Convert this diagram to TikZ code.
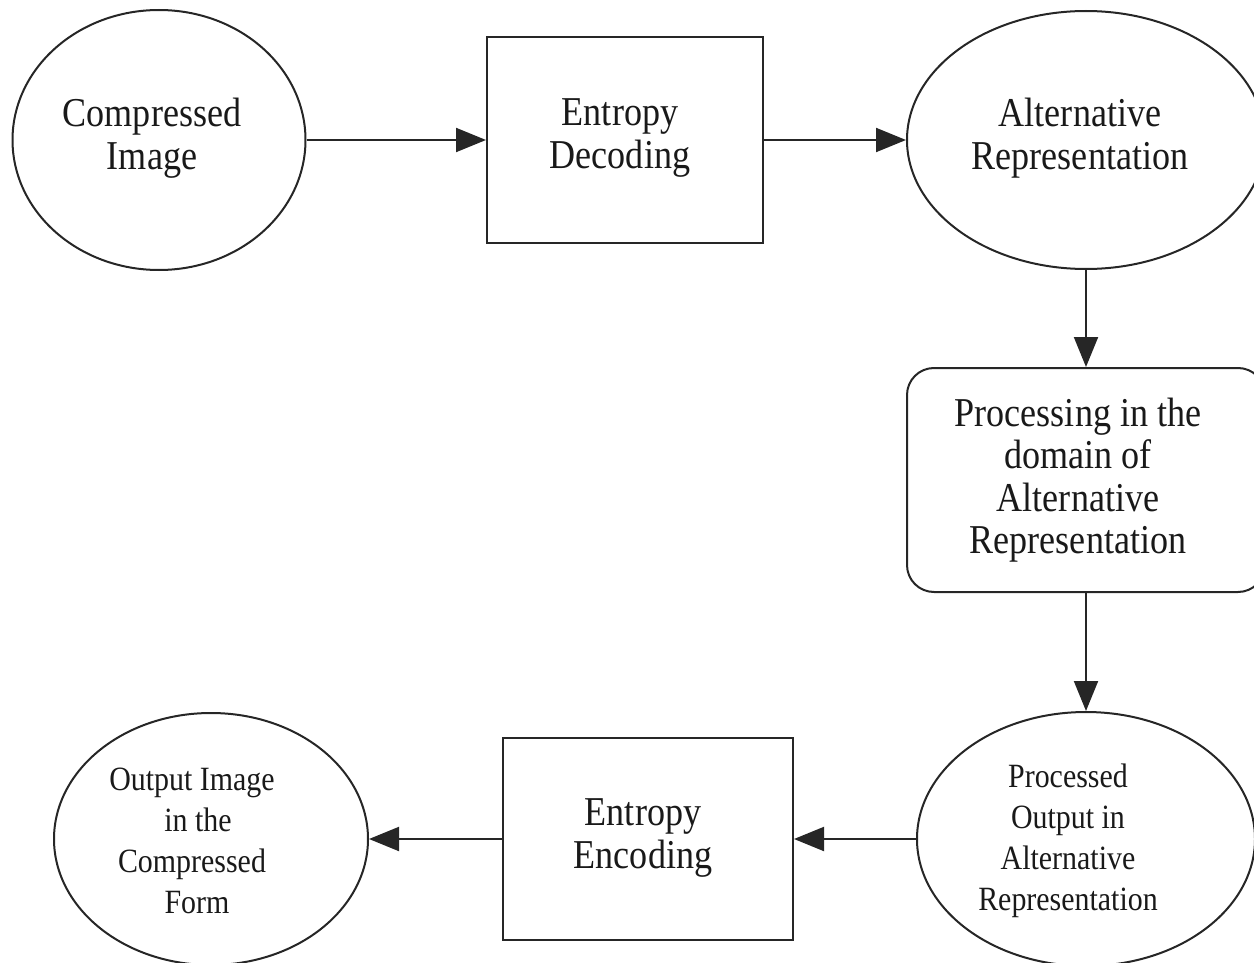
\documentclass[tikz,border=0pt]{standalone}
\usepackage{fontspec}
\setmainfont{Liberation Serif}[FakeStretch=0.88]
\usetikzlibrary{shapes.geometric,arrows.meta}
\begin{document}
\begin{tikzpicture}[x=1pt,y=-1pt,
  line width=2pt,
  outline/.style={draw=black!85, line width=2pt, inner sep=0pt},
  oval/.style={outline, ellipse},
  plainbox/.style={outline, rectangle},
  softbox/.style={outline, rectangle, rounded corners=27pt},
  caption/.style={inner sep=0pt, align=center, text=black!90},
  bigtext/.style={caption, font=\fontsize{41}{42.5}\selectfont},
  smalltext/.style={caption, font=\fontsize{34}{41}\selectfont},
  flow/.style={draw=black!85, -{Triangle[length=30pt,width=24pt]}}
]
\useasboundingbox (0,0) rectangle (1254,963);

% top row
\node[oval, minimum width=293pt, minimum height=260pt] (ci) at (159,140) {};
\node[bigtext] (ci-t) at (152,138) {Compressed\\Image};
\node[plainbox, minimum width=276pt, minimum height=206pt] (ed) at (625,140) {};
\node[bigtext] (ed-t) at (620,138) {Entropy\\Decoding};
\node[oval, minimum width=358pt, minimum height=258pt] (ar) at (1086,140) {};
\node[bigtext] (ar-t) at (1080,138) {Alternative\\Representation};

% right column
\node[softbox, minimum width=358pt, minimum height=224pt] (proc) at (1086,480) {};
\node[bigtext] (proc-t) at (1078,480) {Processing in the\\domain of\\Alternative\\Representation};
\node[oval, minimum width=338pt, minimum height=254pt] (po) at (1086,839) {};
\node[smalltext] (po-t) at (1068,841) {Processed\\Output in\\Alternative\\Representation};

% bottom row
\node[plainbox, minimum width=290pt, minimum height=202pt] (ee) at (648,839) {};
\node[bigtext] (ee-t) at (643,838) {Entropy\\Encoding};
\node[oval, minimum width=314pt, minimum height=252pt] (oi) at (211,839) {};
\node[smalltext] (oi-t) at (192,841) {Output Image\\\hspace*{12pt}in the\\Compressed\\\hspace*{10pt}Form};

% connectors
\draw[flow] (ci.east) -- (ed.west);
\draw[flow] (ed.east) -- (ar.west);
\draw[flow] (ar.south) -- (proc.north);
\draw[flow] (proc.south) -- (po.north);
\draw[flow] (po.west) -- (ee.east);
\draw[flow] (ee.west) -- (oi.east);
\end{tikzpicture}
\end{document}
